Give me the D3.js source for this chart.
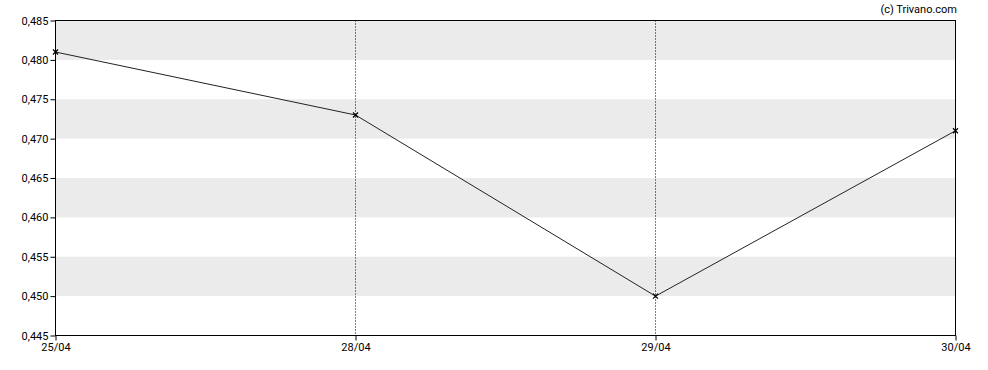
<!DOCTYPE html>
<html>
<head>
<meta charset="utf-8">
<script src="https://cdn.jsdelivr.net/npm/d3@7"></script>
<style>
  body { margin: 0; background: #fff; }
  svg text { font-family: Roboto, "Liberation Sans", Arial, sans-serif; font-size: 11px; fill: #000; }
</style>
</head>
<body>
<svg id="chart" width="988" height="370"></svg>
<script>
var dates = ['25/04', '28/04', '29/04', '30/04'];
var prices = [0.481, 0.473, 0.450, 0.471];
var yTicks = [0.445, 0.450, 0.455, 0.460, 0.465, 0.470, 0.475, 0.480, 0.485];
var bands = [[0.450, 0.455], [0.460, 0.465], [0.470, 0.475], [0.480, 0.485]];

var m = { left: 55.5, right: 955.5, top: 20.5, bottom: 335.5 };
var svg = d3.select('#chart');

var x = d3.scalePoint().domain(dates).range([m.left, m.right]);
var y = d3.scaleLinear().domain([0.445, 0.485]).range([m.bottom, m.top]);
var fmt = function (d) { return d3.format('.3f')(d).replace('.', ','); };

// gray stripes
svg.append('g').selectAll('rect')
    .data(bands)
    .enter().append('rect')
    .attr('x', m.left)
    .attr('width', m.right - m.left)
    .attr('y', function (d) { return y(d[1]); })
    .attr('height', function (d) { return y(d[0]) - y(d[1]); })
    .style('fill', '#ebebeb');

// dotted verticals for inner dates
svg.append('g').selectAll('line')
    .data(dates.slice(1, -1))
    .enter().append('line')
    .attr('x1', function (d) { return x(d); })
    .attr('x2', function (d) { return x(d); })
    .attr('y1', m.top)
    .attr('y2', m.bottom)
    .style('stroke', '#000')
    .style('stroke-dasharray', '1,2');

// frame
svg.append('rect')
    .attr('x', m.left).attr('y', m.top)
    .attr('width', m.right - m.left).attr('height', m.bottom - m.top)
    .style('fill', 'none').style('stroke', '#000');

// axes
var yAxis = svg.append('g')
    .attr('transform', 'translate(' + m.left + ',0)')
    .call(d3.axisLeft(y).tickValues(yTicks).tickFormat(fmt).tickSize(5).tickPadding(2));
var xAxis = svg.append('g')
    .attr('transform', 'translate(0,' + m.bottom + ')')
    .call(d3.axisBottom(x).tickSize(5).tickPadding(3));
[yAxis, xAxis].forEach(function (a) {
    a.select('.domain').remove();
    a.selectAll('line').style('stroke', '#000');
    a.selectAll('text').style('font-size', '11px').style('font-family', 'Roboto, "Liberation Sans", Arial, sans-serif');
});

// price line
var line = d3.line()
    .x(function (d, i) { return x(dates[i]); })
    .y(function (d) { return y(d); });

svg.append('path')
    .datum(prices)
    .attr('d', line)
    .style('fill', 'none')
    .style('stroke', '#222')
    .style('stroke-width', 1);

// x markers
svg.append('g').selectAll('path')
    .data(prices)
    .enter().append('path')
    .attr('transform', function (d, i) { return 'translate(' + x(dates[i]) + ',' + y(d) + ')'; })
    .attr('d', 'M-2.5,-2.5L2.5,2.5M-2.5,2.5L2.5,-2.5')
    .style('stroke', '#000')
    .style('stroke-width', 1.2);

svg.append('text')
    .attr('x', 957)
    .attr('y', 13)
    .attr('text-anchor', 'end')
    .text('(c) Trivano.com');
</script>
</body>
</html>
